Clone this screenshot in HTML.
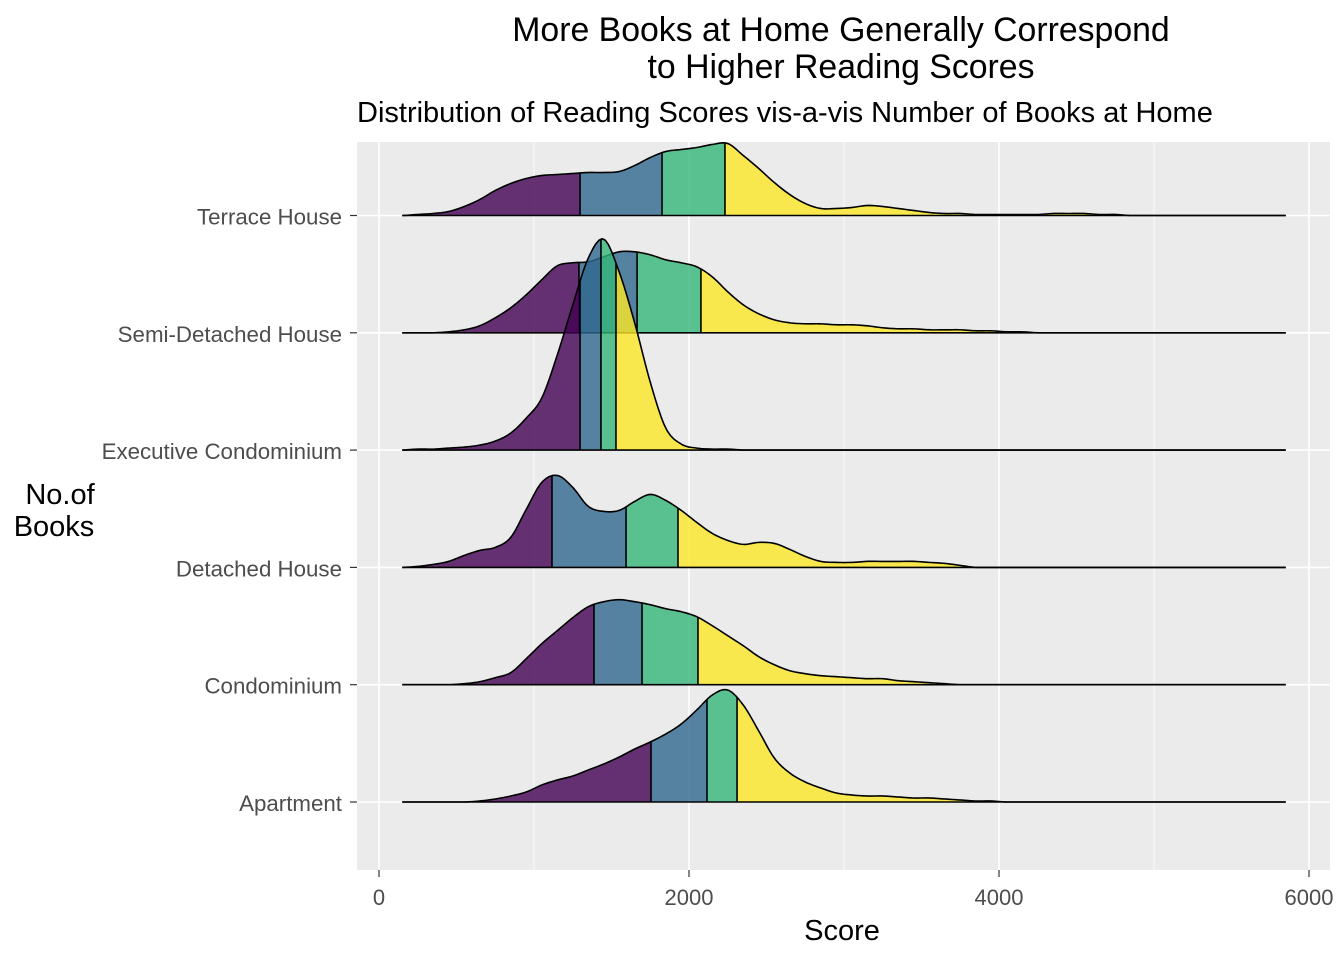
<!DOCTYPE html>
<html><head><meta charset="utf-8">
<style>
html,body{margin:0;padding:0;background:#fff;}
svg{display:block;font-family:"Liberation Sans",Arial,sans-serif;}
</style></head>
<body>
<svg id="chart" width="1344" height="960" viewBox="0 0 1344 960">
  <text x="841" y="41" text-anchor="middle" font-size="33.8" fill="#000">More Books at Home Generally Correspond</text>
  <text x="841" y="78" text-anchor="middle" font-size="33.8" fill="#000">to Higher Reading Scores</text>
  <text x="357" y="122" font-size="29" fill="#000">Distribution of Reading Scores vis-a-vis Number of Books at Home</text>
  <rect x="357" y="142" width="973" height="728" fill="#ebebeb"/>
  <g id="grid"></g>
  <g id="ridges"></g>
  <g id="yaxis"></g>
  <g id="xaxis"></g>
  <text x="60" y="504" text-anchor="middle" font-size="29" fill="#000">No.of</text>
  <text x="54" y="536" text-anchor="middle" font-size="29" fill="#000">Books</text>
  <text x="842" y="940" text-anchor="middle" font-size="29" fill="#000">Score</text>
</svg>
<script>
const categories = ["Apartment","Condominium","Detached House","Executive Condominium","Semi-Detached House","Terrace House"];
const scoreGrid = [150,250,350,450,550,650,750,850,950,1050,1150,1250,1350,1450,1550,1650,1750,1850,1950,2050,2150,2250,2350,2450,2550,2650,2750,2850,2950,3050,3150,3250,3350,3450,3550,3650,3750,3850,3950,4050,4150,4250,4350,4450,4550,4650,4750,4850,4950,5050,5150,5250,5350,5450,5550,5650,5750,5850];
const densApartment = [0,0,0,0,0,1,3,6,10,17,22,26,32,38,45,53,60,68,78,92,107,112,97,71,44,29,20,14,9,7,6,6,5,4,4,3,2,1,1,0,0,0,0,0,0,0,0,0,0,0,0,0,0,0,0,0,0,0];
const densCondominium = [0,0,0,0,1,3,7,12,26,41,54,67,78,83,85,83,80,76,73,68,59,49,39,28,20,14,11,9,8,7,6,6,4,3,2,1,0,0,0,0,0,0,0,0,0,0,0,0,0,0,0,0,0,0,0,0,0,0];
const densDetached = [0,1,3,6,12,17,20,30,58,85,92,80,61,56,57,66,73,67,57,45,34,27,23,25,24,18,11,6,5,5,6,6,6,6,5,4,2,0,0,0,0,0,0,0,0,0,0,0,0,0,0,0,0,0,0,0,0,0];
const densExecutive = [0,1,1,2,3,5,9,17,32,52,95,145,192,211,178,127,68,22,6,2,1,1,0,0,0,0,0,0,0,0,0,0,0,0,0,0,0,0,0,0,0,0,0,0,0,0,0,0,0,0,0,0,0,0,0,0,0,0];
const densSemi = [0,0,0,1,3,7,15,25,38,53,67,70,71,76,81,81,78,73,70,66,56,41,28,19,13,10,9,9,8,8,7,5,4,4,3,3,3,2,2,1,1,0,0,0,0,0,0,0,0,0,0,0,0,0,0,0,0,0];
const densTerrace = [0,1,2,4,9,16,25,32,37,40,41,42,43,43,44,50,58,64,66,68,71,72,60,47,33,21,12,7,7,8,10,9,7,5,3,2,2,1,1,1,1,1,2,2,2,1,1,0,0,0,0,0,0,0,0,0,0,0];
const quartApartment = [1755,2116,2310];
const quartCondominium = [1387,1697,2058];
const quartDetached = [1116,1594,1929];
const quartExecutive = [1297,1432,1529];
const quartSemi = [1290,1665,2077];
const quartTerrace = [1297,1826,2232];
const xTicks = [0,2000,4000,6000];
const xMinor = [1000,3000,5000];

const densities = [densApartment,densCondominium,densDetached,densExecutive,densSemi,densTerrace];
const quartiles = [quartApartment,quartCondominium,quartDetached,quartExecutive,quartSemi,quartTerrace];
const fills = ["rgba(68,1,84,0.8)","rgba(49,104,142,0.8)","rgba(53,183,121,0.8)","rgba(253,231,37,0.8)"];
const NS = "http://www.w3.org/2000/svg";
function xScale(s){ return 379 + (s - 0) * 0.155; }
function yBase(i){ return 802 - i * 117.3; }
function hScale(d){ return d * 1.0; }
function mk(tag, attrs, parent){ const e=document.createElementNS(NS,tag); for(const k in attrs) e.setAttribute(k,attrs[k]); parent.appendChild(e); return e; }
function densAt(arr, s){
  const n = scoreGrid.length;
  if (s <= scoreGrid[0]) return arr[0];
  if (s >= scoreGrid[n-1]) return arr[n-1];
  for (let k=0;k<n-1;k++){
    if (s>=scoreGrid[k] && s<=scoreGrid[k+1]){
      const t=(s-scoreGrid[k])/(scoreGrid[k+1]-scoreGrid[k]);
      const p0=arr[Math.max(0,k-1)], p1=arr[k], p2=arr[k+1], p3=arr[Math.min(n-1,k+2)];
      const t2=t*t, t3=t2*t;
      const v = 0.5*((2*p1)+(-p0+p2)*t+(2*p0-5*p1+4*p2-p3)*t2+(-p0+3*p1-3*p2+p3)*t3);
      return Math.max(0,v);
    }
  }
  return 0;
}
function samples(a,z){
  const out=[a];
  for(let s=Math.ceil(a/20)*20; s<z; s+=20){ if(s>a) out.push(s); }
  out.push(z); return out;
}
const grid = document.getElementById('grid');
xMinor.forEach(v=>{
  const l = mk('line',{x1:xScale(v),x2:xScale(v),y1:142,y2:870,stroke:'#fff','stroke-width':0.8},grid);
  
  
});
xTicks.forEach(v=>{
  const l = mk('line',{x1:xScale(v),x2:xScale(v),y1:142,y2:870,stroke:'#fff','stroke-width':1.6},grid);
  
  
});
categories.forEach((c,i)=>{
  const l = mk('line',{x1:357,x2:1330,y1:yBase(i),y2:yBase(i),stroke:'#fff','stroke-width':1.6},grid);
  
  
});
const ridges = document.getElementById('ridges');
for (let i=categories.length-1;i>=0;i--){
  const d = densities[i], q = quartiles[i], b = yBase(i);
  const g = mk('g',{},ridges);
  
  
  const first = scoreGrid[0], last = scoreGrid[scoreGrid.length-1];
  const bounds = [first].concat(q).concat([last]);
  for (let k=0;k<4;k++){
    const a=bounds[k], z=bounds[k+1];
    let pts = [[xScale(a),b]];
    samples(a,z).forEach(s=>pts.push([xScale(s),b-hScale(densAt(d,s))]));
    pts.push([xScale(z),b]);
    const p = mk('polygon',{points:pts.map(p=>p.join(',')).join(' '),fill:fills[k],stroke:'none'},g);
    
    
  }
  const line = mk('polyline',{points:samples(first,last).map(s=>xScale(s)+','+(b-hScale(densAt(d,s)))).join(' '),fill:'none',stroke:'#000','stroke-width':1.6,'stroke-linejoin':'round'},g);
  
  
  const base = mk('line',{x1:xScale(first),x2:xScale(last),y1:b,y2:b,stroke:'#000','stroke-width':1.6},g);
  
  
  q.forEach(v=>{
    const ql = mk('line',{x1:xScale(v),x2:xScale(v),y1:b,y2:b-hScale(densAt(d,v)),stroke:'#000','stroke-width':1.6},g);
    
    
  });
}
const yaxis = document.getElementById('yaxis');
categories.forEach((c,i)=>{
  const t = mk('line',{x1:350,x2:357,y1:yBase(i),y2:yBase(i),stroke:'#333','stroke-width':1.2},yaxis);
  
  
  const lb = mk('text',{x:342,y:yBase(i)+9,'text-anchor':'end','font-size':22.3,fill:'#4d4d4d'},yaxis);
  lb.textContent = c;
  
  
});
const xaxis = document.getElementById('xaxis');
xTicks.forEach(v=>{
  const t = mk('line',{x1:xScale(v),x2:xScale(v),y1:870,y2:877,stroke:'#333','stroke-width':1.2},xaxis);
  
  
  const lb = mk('text',{x:xScale(v),y:905,'text-anchor':'middle','font-size':22,fill:'#4d4d4d'},xaxis);
  lb.textContent = v;
  
  
});
</script>
</body></html>
